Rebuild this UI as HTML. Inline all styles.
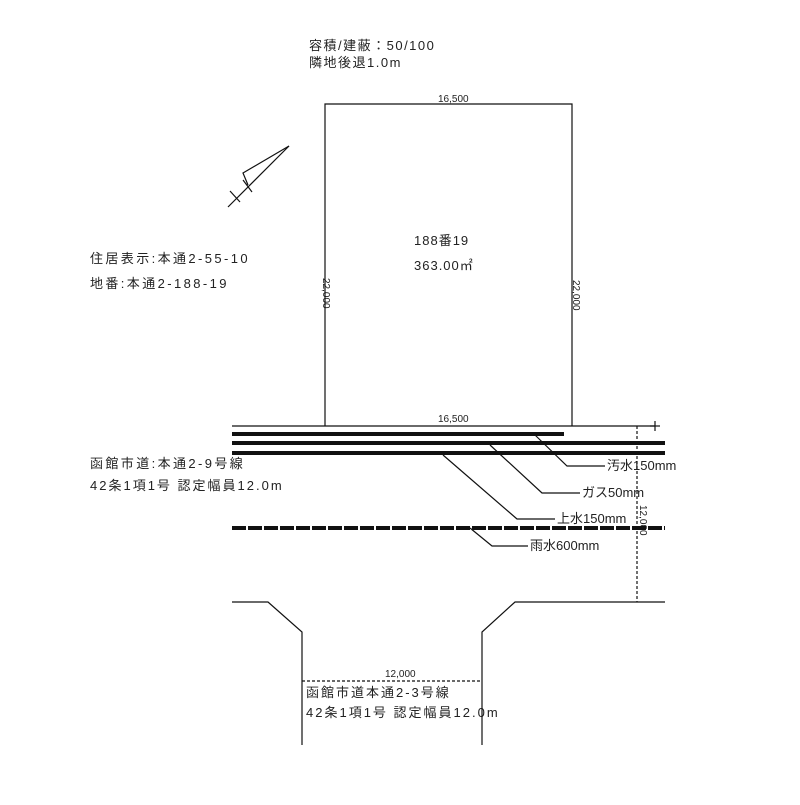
<!DOCTYPE html>
<html><head><meta charset="utf-8"><style>
body{margin:0;background:#fff}
svg text{font-family:"Liberation Sans","Noto Sans CJK JP",sans-serif;fill:#222}
</style></head><body>
<svg width="800" height="800" viewBox="0 0 800 800" xmlns="http://www.w3.org/2000/svg">
<g font-size="13">
<text x="309" y="50" letter-spacing="1.5">容積/建蔽：50/100</text>
<text x="309" y="67" letter-spacing="1.5">隣地後退1.0m</text>
<text x="90" y="263" letter-spacing="2.4">住居表示:本通2-55-10</text>
<text x="90" y="288" letter-spacing="2.4">地番:本通2-188-19</text>
<text x="90" y="468" letter-spacing="2.4">函館市道:本通2-9号線</text>
<text x="90" y="490" letter-spacing="2">42条1項1号 認定幅員12.0m</text>
<text x="306" y="697" letter-spacing="2">函館市道本通2-3号線</text>
<text x="306" y="717" letter-spacing="2">42条1項1号 認定幅員12.0m</text>
<text x="414" y="245" letter-spacing="1">188番19</text>
<text x="414" y="270" letter-spacing="1">363.00㎡</text>
<text x="607" y="470">汚水150mm</text>
<text x="582" y="497">ガス50mm</text>
<text x="557" y="523">上水150mm</text>
<text x="530" y="550">雨水600mm</text>
</g>
<g font-size="10">
<text x="438" y="102">16,500</text>
<text x="438" y="422">16,500</text>
<text x="385" y="677">12,000</text>
<text transform="translate(323,278) rotate(90)">22,000</text>
<text transform="translate(573,280) rotate(90)">22,000</text>
<text transform="translate(640,505) rotate(90)">12,000</text>
</g>
<g stroke="#111" fill="none" stroke-width="1.2">
<polyline points="325,426 325,104 572,104 572,426"/>
<line x1="232" y1="426" x2="655" y2="426"/>
<line x1="650" y1="426" x2="660" y2="426"/>
<line x1="655" y1="421" x2="655" y2="431"/>
<line x1="637" y1="426" x2="637" y2="602" stroke-dasharray="3,2"/>
<polyline points="535,435 567,466 605,466"/>
<polyline points="490,445 542,493 580,493"/>
<polyline points="443,455 517,519 555,519"/>
<polyline points="470,528 492,546 528,546"/>
<polyline points="232,602 268,602 302,632 302,745"/>
<polyline points="665,602 515,602 482,632 482,745"/>
<line x1="302" y1="681" x2="482" y2="681" stroke-dasharray="3,2"/>
<line x1="289" y1="146" x2="228" y2="207"/>
<polyline points="289,146 243,173 248,185"/>
<line x1="243" y1="180" x2="252" y2="192"/>
<line x1="230" y1="191" x2="240" y2="202"/>
</g>
<g stroke="#111" stroke-width="4">
<line x1="232" y1="434" x2="564" y2="434"/>
<line x1="232" y1="443" x2="665" y2="443"/>
<line x1="232" y1="453" x2="665" y2="453"/>
<line x1="232" y1="528" x2="665" y2="528" stroke-dasharray="14,2"/>
</g>
</svg>
</body></html>
